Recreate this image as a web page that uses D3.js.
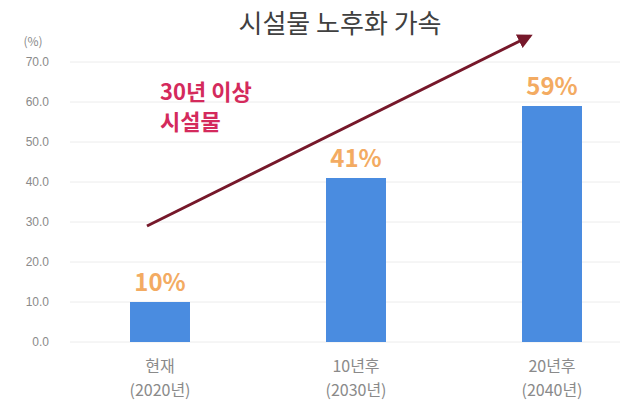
<!DOCTYPE html>
<html>
<head>
<meta charset="utf-8">
<script src="https://cdn.jsdelivr.net/npm/d3@7"></script>
<style>
  html, body { margin: 0; padding: 0; background: #fff; }
  svg { display: block; font-family: "Noto Sans CJK KR", "Noto Sans", sans-serif; }
</style>
</head>
<body>
<svg id="chart" width="640" height="410"></svg>
<script>
// Share of facilities aged 30+ years
const categories = ["현재", "10년후", "20년후"];
const years = ["(2020년)", "(2030년)", "(2040년)"];
const shares = [10, 41, 59];
const yTicks = [0, 10, 20, 30, 40, 50, 60, 70];

const svg = d3.select("#chart");
const W = 640, H = 410;
const plot = { left: 70, right: 620, top: 62, bottom: 342 };

const x = d3.scaleBand()
  .domain(categories)
  .range([62, 650])
  .paddingInner(0.694)
  .paddingOuter(0.347);

const y = d3.scaleLinear()
  .domain([0, 70])
  .range([plot.bottom, plot.top]);

// horizontal grid lines
svg.append("g")
  .selectAll("line")
  .data(yTicks)
  .join("line")
  .attr("x1", plot.left)
  .attr("x2", plot.right)
  .attr("y1", d => y(d))
  .attr("y2", d => y(d))
  .attr("stroke", "#ececec")
  .attr("stroke-width", 1);

// y axis labels
const yAxis = d3.axisLeft(y).tickValues(yTicks).tickFormat(d3.format(".1f")).tickSize(0).tickPadding(0);
const gy = svg.append("g").attr("transform", "translate(49,0)").call(yAxis);
gy.select(".domain").remove();
gy.selectAll("text").attr("fill", "#8a8a8a").attr("font-size", 12);

svg.append("text")
  .attr("x", 33).attr("y", 46)
  .attr("text-anchor", "middle")
  .attr("fill", "#8a8a8a").attr("font-size", 12)
  .text("(%)");

// bars
svg.append("g")
  .selectAll("rect")
  .data(shares)
  .join("rect")
  .attr("x", (d, i) => x(categories[i]))
  .attr("y", d => y(d))
  .attr("width", x.bandwidth())
  .attr("height", d => y(0) - y(d))
  .attr("fill", "#4a8ce0");

// value labels
svg.append("g")
  .selectAll("text")
  .data(shares)
  .join("text")
  .attr("x", (d, i) => x(categories[i]) + x.bandwidth() / 2)
  .attr("y", d => y(d) - 11)
  .attr("text-anchor", "middle")
  .attr("fill", "#f3ab62")
  .attr("font-size", 24)
  .attr("font-weight", "bold")
  .text(d => d + "%");

// category labels
const xl = svg.append("g")
  .selectAll("text")
  .data(categories)
  .join("text")
  .attr("x", d => x(d) + x.bandwidth() / 2)
  .attr("y", 372)
  .attr("text-anchor", "middle")
  .attr("fill", "#8a8a8a")
  .attr("font-size", 16);
xl.append("tspan").attr("x", d => x(d) + x.bandwidth() / 2).text(d => d);
xl.append("tspan").attr("x", d => x(d) + x.bandwidth() / 2).attr("dy", 24).text((d, i) => years[i]);

// title
svg.append("text")
  .attr("x", 340).attr("y", 33)
  .attr("text-anchor", "middle")
  .attr("fill", "#404040")
  .attr("font-size", 26)
  .text("시설물 노후화 가속");

// trend arrow
svg.append("defs").append("marker")
  .attr("id", "head")
  .attr("viewBox", "0 0 10 10")
  .attr("refX", 8).attr("refY", 5)
  .attr("markerWidth", 5).attr("markerHeight", 5)
  .attr("orient", "auto")
  .append("path").attr("d", "M0,0 L10,5 L0,10 Z").attr("fill", "#76182a");

svg.append("line")
  .attr("x1", 147).attr("y1", 226)
  .attr("x2", 530).attr("y2", 36)
  .attr("stroke", "#76182a")
  .attr("stroke-width", 3)
  .attr("marker-end", "url(#head)");

// annotation
const ann = svg.append("text")
  .attr("x", 160).attr("y", 100)
  .attr("fill", "#d42a5c")
  .attr("font-size", 22)
  .attr("font-weight", "bold");
ann.append("tspan").attr("x", 160).text("30년 이상");
ann.append("tspan").attr("x", 160).attr("dy", 30).text("시설물");
</script>
</body>
</html>
